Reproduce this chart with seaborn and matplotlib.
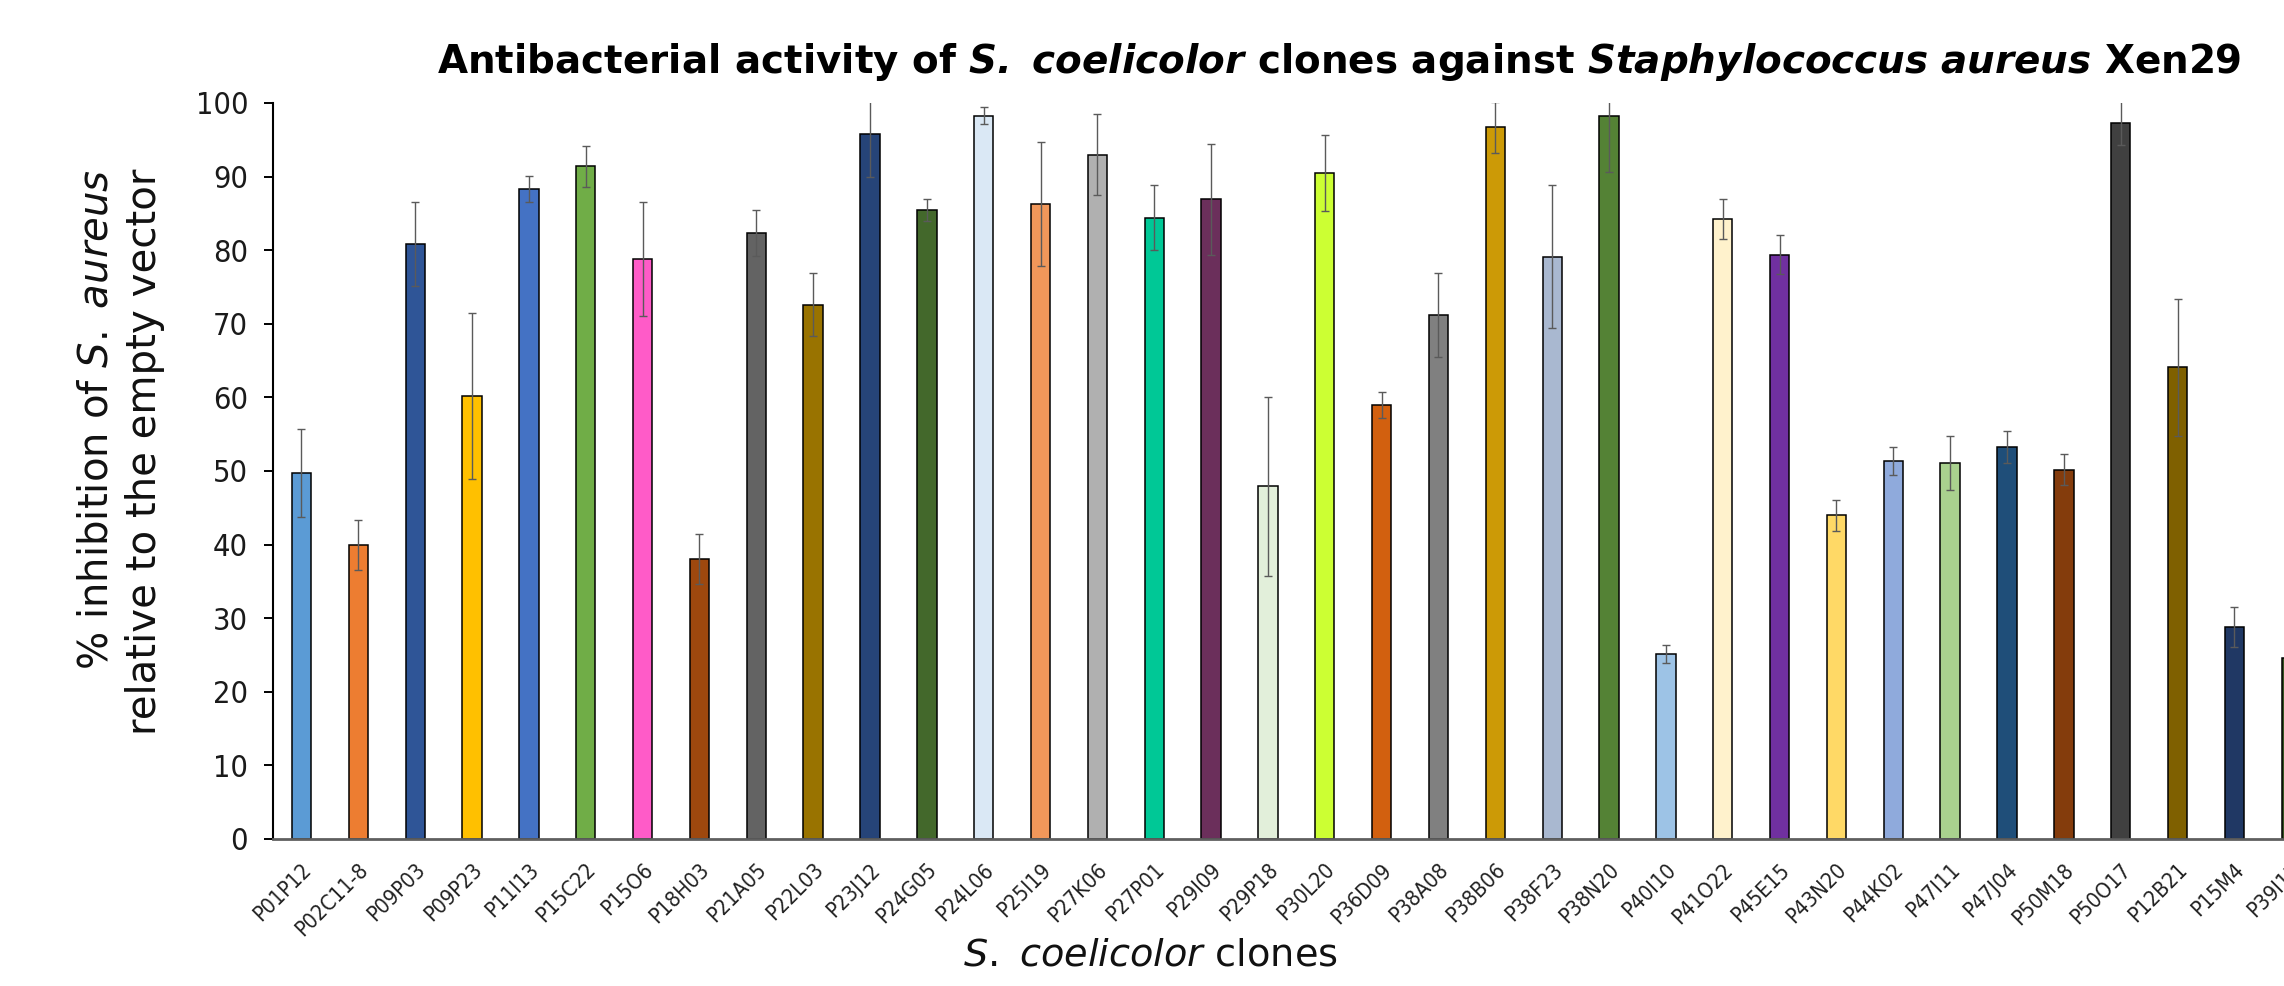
import matplotlib
matplotlib.use("Agg")
import matplotlib.pyplot as plt
import matplotlib.transforms as mtransforms
import seaborn as sns
import pandas as pd
from matplotlib import font_manager

# Clone names, mean % inhibition and error (SD) for each clone
clones = [
    "P01P12", "P02C11-8", "P09P03", "P09P23", "P11I13", "P15C22", "P15O6",
    "P18H03", "P21A05", "P22L03", "P23J12", "P24G05", "P24L06", "P25I19",
    "P27K06", "P27P01", "P29I09", "P29P18", "P30L20", "P36D09", "P38A08",
    "P38B06", "P38F23", "P38N20", "P40I10", "P41O22", "P45E15", "P43N20",
    "P44K02", "P47I11", "P47J04", "P50M18", "P50O17", "P12B21", "P15M4",
    "P39I17",
]
inhibition = [
    49.7, 40.0, 80.9, 60.2, 88.3, 91.4, 78.8,
    38.1, 82.3, 72.6, 95.8, 85.4, 98.3, 86.3,
    93.0, 84.4, 86.9, 47.9, 90.5, 59.0, 71.2,
    96.7, 79.1, 98.2, 25.1, 84.2, 79.4, 44.0,
    51.4, 51.1, 53.3, 50.2, 97.3, 64.1, 28.8,
    24.6,
]
error = [
    6.0, 3.4, 5.7, 11.3, 1.8, 2.8, 7.8,
    3.4, 3.1, 4.3, 5.8, 1.5, 1.2, 8.4,
    5.5, 4.4, 7.5, 12.1, 5.2, 1.8, 5.7,
    3.5, 9.7, 7.6, 1.2, 2.7, 2.6, 2.1,
    1.9, 3.7, 2.2, 2.1, 3.0, 9.3, 2.7,
    2.5,
]
bar_colors = [
    "#5B9BD5", "#ED7D31", "#2F5597", "#FFC000", "#4472C4", "#70AD47", "#FF5BC8",
    "#9E480E", "#636363", "#997300", "#264478", "#43682B", "#DAE8F5", "#F1975A",
    "#B0B0B0", "#00C896", "#6B2F5B", "#E2EFDA", "#CCFF33", "#D2600F", "#808080",
    "#CC9A06", "#A9B8D0", "#548235", "#9DC3E6", "#FFF2CC", "#7030A0", "#FFD966",
    "#8FAADC", "#A9D18E", "#1F4E79", "#843C0C", "#404040", "#7F6000", "#203864",
    "#375623",
]
y_ticks = [0, 10, 20, 30, 40, 50, 60, 70, 80, 90, 100]

sns.set_theme(style="white")
plt.rcParams["font.family"] = ["DejaVu Sans"]
plt.rcParams["mathtext.fontset"] = "custom"
plt.rcParams["mathtext.rm"] = "DejaVu Sans"
plt.rcParams["mathtext.it"] = "DejaVu Sans:italic"
plt.rcParams["mathtext.bf"] = "DejaVu Sans:bold"
plt.rcParams["mathtext.bfit"] = "DejaVu Sans:italic:bold"


def tick_fontprops(size):
    """A narrow face for the tick labels: condensed DejaVu if present,
    otherwise Liberation Sans (Arial metrics)."""
    cond = font_manager.FontProperties(family="DejaVu Sans", stretch="condensed")
    try:
        path = font_manager.findfont(cond, fallback_to_default=False)
        if "ondensed" in path:
            return font_manager.FontProperties(family="DejaVu Sans",
                                               stretch="condensed", size=size)
    except Exception:
        pass
    return font_manager.FontProperties(family="Liberation Sans", size=size)


W, H = 2284, 986
fig = plt.figure(figsize=(W / 100, H / 100), dpi=100)
fig.patch.set_facecolor("white")

# axes run past the right edge of the figure, so the last bar is cut off
ax_left, ax_bottom, ax_top = 272.5, 839.0, 103.0
slot = 56.85
ax = fig.add_axes([ax_left / W, (H - ax_bottom) / H,
                   36.01 * slot / W, (ax_bottom - ax_top) / H])

df = pd.DataFrame({"clone": clones, "inhibition": inhibition, "error": error})
sns.barplot(data=df, x="clone", y="inhibition", hue="clone",
            palette=dict(zip(clones, bar_colors)), saturation=1,
            width=0.34, edgecolor="black", linewidth=1.1,
            errorbar=None, legend=False, ax=ax)

xpos = ax.get_xticks()
ax.errorbar(xpos, df["inhibition"], yerr=df["error"], fmt="none",
            ecolor="#5A5A5A", elinewidth=1.0, capsize=2.6, capthick=1.0,
            zorder=5)

ax.set_xlim(-0.51, 35.5)
ax.set_ylim(0, 100)
ax.set_yticks(y_ticks)
ax.set_yticklabels([str(t) for t in y_ticks], fontproperties=tick_fontprops(22),
                   color="#1A1A1A")
ax.set_xticks(xpos)
ax.set_xticklabels(clones, rotation=45, ha="right", va="center",
                   rotation_mode="anchor", fontproperties=tick_fontprops(15.5),
                   color="#222222")
ax.tick_params(axis="y", direction="out", length=6.5, width=1.4,
               color="black", pad=11, left=True)
ax.tick_params(axis="x", length=0, pad=20)
# nudge the slanted clone names a little to the right of each bar
shift = mtransforms.ScaledTranslation(5 / 72, 0, fig.dpi_scale_trans)
for lbl in ax.get_xticklabels():
    lbl.set_transform(lbl.get_transform() + shift)
ax.set_xlabel("")
ax.set_ylabel("")
ax.grid(False)

for side in ("top", "right"):
    ax.spines[side].set_visible(False)
ax.spines["left"].set_color("black")
ax.spines["left"].set_linewidth(1.5)
ax.spines["bottom"].set_color("#5F5F5F")
ax.spines["bottom"].set_linewidth(2.0)

fig.text(1339 / W, 1 - 62 / H,
         r"Antibacterial activity of $\mathbfit{S.\ coelicolor}$ clones against "
         r"$\mathbfit{Staphylococcus\ aureus}$ Xen29",
         ha="center", va="center", fontsize=28, fontweight="bold",
         color="black")

fig.text(121 / W, 1 - 452 / H,
         "% inhibition of $\\mathit{S.\\ aureus}$\nrelative to the empty vector",
         rotation=90, ha="center", va="center", multialignment="right",
         fontsize=29, color="#111111", linespacing=1.28)

fig.text(1150 / W, 1 - 955 / H, r"$\mathit{S.\ coelicolor}$ clones",
         ha="center", va="center", fontsize=27.5, color="#111111")

fig.savefig("out.png", dpi=100, facecolor="white")
